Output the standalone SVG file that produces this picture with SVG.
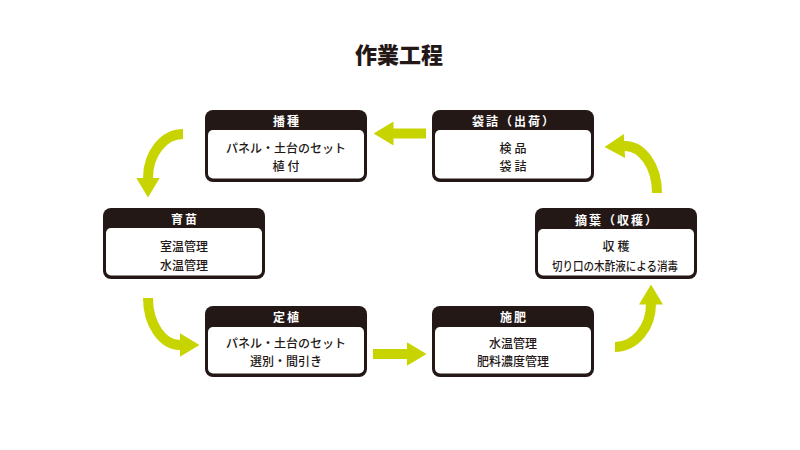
<svg xmlns="http://www.w3.org/2000/svg" width="800" height="450" viewBox="0 0 800 450">
<style>
.frame{fill:#231815}
.body{fill:#ffffff}
.hd{font-family:"Noto Sans CJK JP","Noto Sans",sans-serif;font-size:12px;font-weight:700;fill:#ffffff;text-anchor:middle;dominant-baseline:central;letter-spacing:2px}
.tx{font-family:"Noto Sans CJK JP","Noto Sans",sans-serif;font-size:12px;font-weight:500;fill:#231815;text-anchor:middle;dominant-baseline:central}
.sp{letter-spacing:3px}
.title{font-family:"Noto Sans CJK JP","Noto Sans",sans-serif;font-size:22px;font-weight:900;fill:#231815;text-anchor:middle;dominant-baseline:central}
.arr{fill:none;stroke:#c8d400;stroke-width:10;stroke-linecap:butt}
</style>
<defs>
<marker id="ah" markerUnits="userSpaceOnUse" markerWidth="20" markerHeight="24" viewBox="0 0 20 24" refX="0.5" refY="12" orient="auto">
<path d="M0,0 L20,12 L0,24 Z" fill="#c8d400"/>
</marker>
</defs>
<rect width="800" height="450" fill="#ffffff"/>
<text class="title" x="399" y="53">作業工程</text>

<g id="connectors">
<path class="arr" d="M426,133.5 L393,133.5" marker-end="url(#ah)"/>
<path class="arr" d="M183,134 A35,44 0 0 0 148,178" marker-end="url(#ah)"/>
<path class="arr" d="M148,298 A32,47 0 0 0 180,345" marker-end="url(#ah)"/>
<path class="arr" d="M373,354 L407,354" marker-end="url(#ah)"/>
<path class="arr" d="M615,347 A36,43 0 0 0 651,304" marker-end="url(#ah)"/>
<path class="arr" d="M657,193 A32,47 0 0 0 624,146" marker-end="url(#ah)"/>
</g>

<g id="node-hashu">
<rect class="frame" x="205" y="110" width="162" height="72" rx="8"/>
<rect class="body" x="208" y="130" width="156" height="48.5" rx="5"/>
<text class="hd" x="287" y="120.5">播種</text>
<text class="tx" x="286" y="147">パネル・土台のセット</text>
<text class="tx sp" x="287.5" y="165">植付</text>
</g>

<g id="node-fukurozume">
<rect class="frame" x="432" y="110" width="162" height="72" rx="8"/>
<rect class="body" x="435" y="130" width="156" height="48.5" rx="5"/>
<text class="hd" x="514" y="120.5">袋詰（出荷）</text>
<text class="tx sp" x="514.5" y="147">検品</text>
<text class="tx sp" x="514.5" y="165">袋詰</text>
</g>

<g id="node-ikubyo">
<rect class="frame" x="103" y="208" width="162" height="71" rx="8"/>
<rect class="body" x="106" y="228" width="156" height="47.5" rx="5"/>
<text class="hd" x="185" y="218.5">育苗</text>
<text class="tx" x="184" y="245">室温管理</text>
<text class="tx" x="184" y="264">水温管理</text>
</g>

<g id="node-tekiyo">
<rect class="frame" x="535" y="208" width="162" height="71" rx="8"/>
<rect class="body" x="538" y="229" width="156" height="46.5" rx="5"/>
<text class="hd" x="617" y="219">摘葉（収穫）</text>
<text class="tx sp" x="617.5" y="245.5">収穫</text>
<text class="tx" x="615" y="265" textLength="126" lengthAdjust="spacingAndGlyphs">切り口の木酢液による消毒</text>
</g>

<g id="node-teishoku">
<rect class="frame" x="205" y="306" width="162" height="71" rx="8"/>
<rect class="body" x="208" y="327" width="156" height="46.5" rx="5"/>
<text class="hd" x="287" y="316.5">定植</text>
<text class="tx" x="286" y="342">パネル・土台のセット</text>
<text class="tx" x="286" y="360">選別・間引き</text>
</g>

<g id="node-sehi">
<rect class="frame" x="432" y="306" width="162" height="71" rx="8"/>
<rect class="body" x="435" y="327" width="156" height="46.5" rx="5"/>
<text class="hd" x="514" y="316.5">施肥</text>
<text class="tx" x="513" y="342">水温管理</text>
<text class="tx" x="513" y="360">肥料濃度管理</text>
</g>
</svg>
